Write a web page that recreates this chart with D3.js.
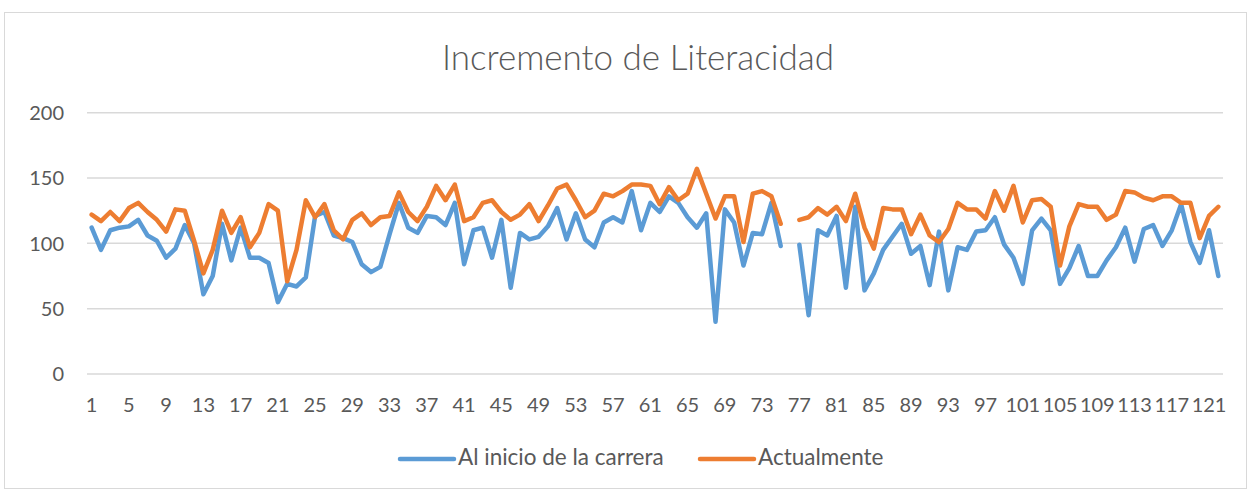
<!DOCTYPE html>
<html>
<head>
<meta charset="utf-8">
<script src="https://cdn.jsdelivr.net/npm/d3@7"></script>
<style>
  body { margin: 0; background: #fff; }
  text { font-family: Lato, "Open Sans", sans-serif; fill: #595959; }
</style>
</head>
<body>
<svg id="chart" width="1251" height="489"></svg>
<script>
// categories 1..122 (labels on the x axis)
const categories = d3.range(1, 123);
const xTickLabels = categories.filter((d, i) => i % 4 === 0);
const yTicks = [0, 50, 100, 150, 200];
const seriesNames = ["Al inicio de la carrera", "Actualmente"];

// values, 76 is empty in both
const alInicio = [112, 95, 110, 112, 113, 118, 106, 102, 89, 96,
  114, 100, 61, 75, 115, 87, 112, 89, 89, 85,
  55, 69, 67, 74, 121, 124, 106, 104, 101, 84,
  78, 82, 107, 131, 112, 108, 121, 120, 114, 131,
  84, 110, 112, 89, 118, 66, 108, 103, 105, 113,
  127, 103, 123, 103, 97, 116, 120, 116, 140, 110,
  131, 124, 136, 131, 120, 112, 123, 40, 126, 116,
  83, 108, 107, 131, 98, null, 99, 45, 110, 106,
  121, 66, 128, 64, 77, 95, 105, 115, 92, 98,
  68, 109, 64, 97, 95, 109, 110, 120, 99, 89,
  69, 110, 119, 110, 69, 81, 98, 75, 75, 87,
  97, 112, 86, 111, 114, 98, 110, 130, 101, 85,
  110, 75];
const actualmente = [122, 117, 124, 117, 127, 131, 124, 118, 109, 126,
  125, 102, 77, 95, 125, 108, 120, 97, 108, 130,
  125, 71, 95, 133, 120, 130, 110, 103, 118, 123,
  114, 120, 121, 139, 124, 117, 128, 144, 133, 145,
  117, 120, 131, 133, 124, 118, 122, 130, 117, 129,
  142, 145, 133, 120, 125, 138, 136, 140, 145, 145,
  144, 130, 143, 133, 138, 157, 138, 119, 136, 136,
  101, 138, 140, 136, 115, null, 118, 120, 127, 122,
  128, 117, 138, 112, 96, 127, 126, 126, 107, 122,
  106, 101, 111, 131, 126, 126, 119, 140, 125, 144,
  116, 133, 134, 128, 83, 113, 130, 128, 128, 118,
  122, 140, 139, 135, 133, 136, 136, 131, 131, 104,
  121, 128];

const colors = ["#5B9BD5", "#ED7D31"];

const svg = d3.select("#chart");

// outer chart border
svg.append("rect")
  .attr("x", 4.5).attr("y", 12.5)
  .attr("width", 1242).attr("height", 476)
  .attr("fill", "none")
  .attr("stroke", "#D9D9D9");

const x = d3.scalePoint().domain(categories).range([87, 1223]).padding(0.5);
const y = d3.scaleLinear().domain([0, 200]).range([374, 112.7]);

// gridlines
svg.append("g").selectAll("line")
  .data(yTicks)
  .join("line")
  .attr("x1", 87).attr("x2", 1223)
  .attr("y1", d => y(d)).attr("y2", d => y(d))
  .attr("stroke", "#D9D9D9")
  .attr("stroke-width", 1.5);

// y labels
svg.append("g").selectAll("text")
  .data(yTicks)
  .join("text")
  .attr("x", 64)
  .attr("y", d => y(d))
  .attr("dy", "0.36em")
  .attr("text-anchor", "end")
  .style("font-size", "20px")
  .text(d => d);

// x labels
svg.append("g").selectAll("text")
  .data(xTickLabels)
  .join("text")
  .attr("x", d => x(d))
  .attr("y", 412)
  .attr("text-anchor", "middle")
  .style("font-size", "20px")
  .text(d => d);

// the two lines
const line = d3.line()
  .defined(d => d.v != null)
  .x(d => x(d.c))
  .y(d => y(d.v));

[alInicio, actualmente].forEach((vals, k) => {
  const pts = categories.map((c, i) => ({c: c, v: vals[i]}));
  svg.append("path")
    .attr("d", line(pts))
    .attr("fill", "none")
    .attr("stroke", colors[k])
    .attr("stroke-width", 4.5)
    .attr("stroke-linejoin", "round")
    .attr("stroke-linecap", "round");
});

// title
svg.append("text")
  .attr("x", 638)
  .attr("y", 70)
  .attr("text-anchor", "middle")
  .style("font-size", "35px")
  .style("font-weight", 300)
  .text("Incremento de Literacidad");

// legend
const legendX = [400, 700];
const legend = svg.append("g");
seriesNames.forEach((name, k) => {
  legend.append("line")
    .attr("x1", legendX[k]).attr("x2", legendX[k] + 54)
    .attr("y1", 459).attr("y2", 459)
    .attr("stroke", colors[k])
    .attr("stroke-width", 4.5)
    .attr("stroke-linecap", "round");
  legend.append("text")
    .attr("x", legendX[k] + 58)
    .attr("y", 465)
    .style("font-size", "22.5px")
    .text(name);
});
</script>
</body>
</html>
